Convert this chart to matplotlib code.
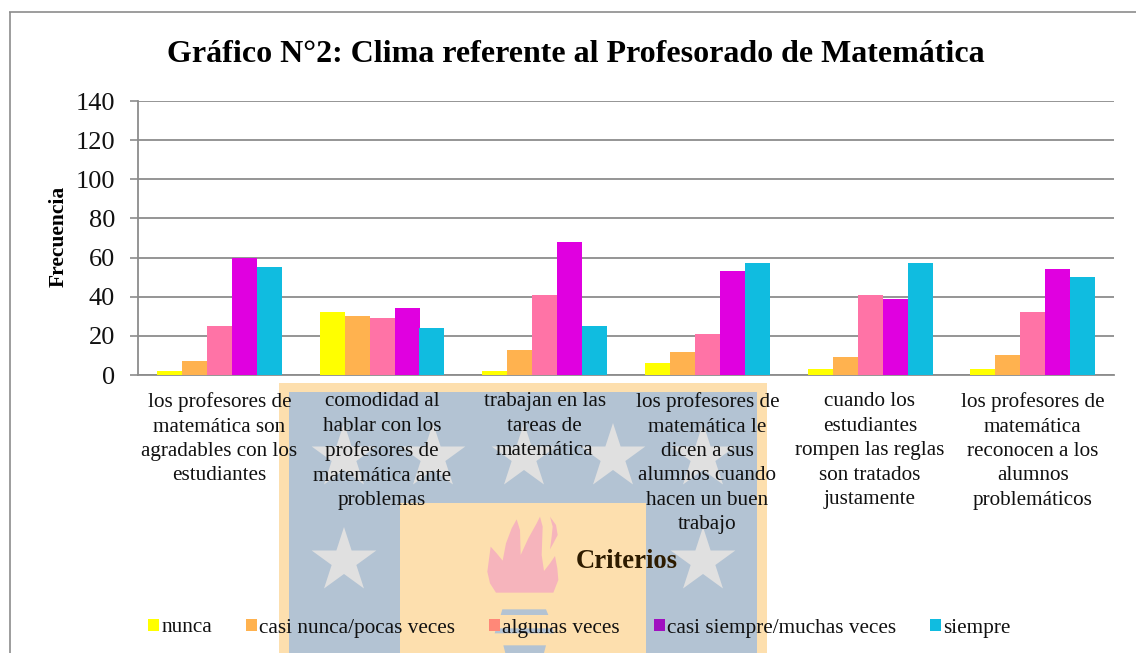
import matplotlib
matplotlib.use("Agg")
import numpy as np
import matplotlib.pyplot as plt
from matplotlib.patches import Rectangle, Polygon, Patch

plt.rcParams['font.family'] = ['Liberation Serif', 'DejaVu Serif']

TITLE = "Gráfico N°2: Clima referente al Profesorado de Matemática"
CATEGORIES = [
    "los profesores de\nmatemática son\nagradables con los\nestudiantes",
    "comodidad al\nhablar con los\nprofesores de\nmatemática ante\nproblemas",
    "trabajan en las\ntareas de\nmatemática",
    "los profesores de\nmatemática le\ndicen a sus\nalumnos cuando\nhacen un buen\ntrabajo",
    "cuando los\nestudiantes\nrompen las reglas\nson tratados\njustamente",
    "los profesores de\nmatemática\nreconocen a los\nalumnos\nproblemáticos",
]
SERIES = ["nunca", "casi nunca/pocas veces", "algunas veces",
          "casi siempre/muchas veces", "siempre"]
nunca = [2, 32, 2, 6, 3, 3]
casi_nunca = [7, 30, 13, 12, 9, 10]
algunas = [25, 29, 41, 21, 41, 32]
casi_siempre = [60, 34, 68, 53, 39, 54]
siempre = [55, 24, 25, 57, 57, 50]
VALUES = [nunca, casi_nunca, algunas, casi_siempre, siempre]
BAR_COLORS = ["#FFFF00", "#FFB24F", "#FF73A6", "#E000E0", "#10BCE0"]
LEGEND_COLORS = ["#FFFF00", "#FFB24F", "#FF8878", "#A010C0", "#10BCE0"]
YTICKS = [0, 20, 40, 60, 80, 100, 120, 140]

W, H = 1136, 653
fig = plt.figure(figsize=(W / 100, H / 100), dpi=100, facecolor="white")

# background watermark + frame, in pixel coordinates
bg = fig.add_axes([0, 0, 1, 1], zorder=0)
bg.set_xlim(0, W); bg.set_ylim(H, 0); bg.axis("off")
BEIGE, BLUE = "#FDDFAE", "#B3C3D3"
bg.add_patch(Rectangle((279, 383), 488, 270, fc=BEIGE, ec="none"))
bg.add_patch(Rectangle((289, 392), 468, 261, fc=BLUE, ec="none"))
bg.add_patch(Rectangle((400, 503), 246, 150, fc=BEIGE, ec="none"))

def star(cx, cy, R=34):
    a = np.pi / 2 + np.arange(10) * np.pi / 5
    r = np.where(np.arange(10) % 2 == 0, R, R * 0.382)
    return np.column_stack([cx + r * np.cos(a), cy - r * np.sin(a)])

for cx, cy in [(344, 457), (433, 457), (524, 457), (613, 457), (703, 457), (344, 561), (703, 561)]:
    bg.add_patch(Polygon(star(cx, cy), fc="#E0E0E0", ec="none"))

def zoomed(pts):
    return [(470 + x / 3, 500 + y / 3) for x, y in pts]

flame = [(78, 278), (60, 250), (52, 215), (62, 140), (80, 160), (98, 182), (108, 130), (125, 85),
         (140, 58), (150, 90), (152, 165), (175, 115), (200, 70), (210, 50), (218, 80), (215, 165),
         (222, 213), (240, 190), (255, 168), (262, 205), (265, 240), (250, 278)]
flame2 = [(240, 50), (258, 75), (263, 105), (250, 130), (240, 148), (245, 110), (248, 80)]
for p in (flame, flame2):
    bg.add_patch(Polygon(zoomed(p), fc="#F6B4BC", ec="none"))
for p in ([(97, 328), (228, 328), (235, 345), (92, 345)],
          [(78, 385), (248, 385), (252, 400), (74, 400)],
          [(100, 436), (228, 436), (222, 459), (106, 459)]):
    bg.add_patch(Polygon(zoomed(p), fc=BLUE, ec="none"))

FRAME = "#8C8C8C"
bg.plot([9.5, 9.5], [653, 11.5], color=FRAME, lw=1.2, solid_capstyle="butt")
bg.plot([9, 1136], [11.5, 11.5], color=FRAME, lw=1.2, solid_capstyle="butt")

# main chart
ax = fig.add_axes([138 / W, 1 - 375 / H, (1114 - 138) / W, (375 - 101) / H], zorder=1)
ax.patch.set_alpha(0)
x = np.arange(len(CATEGORIES))
bw = 25 / ((1114 - 138) / 6)
for i, (vals, c) in enumerate(zip(VALUES, BAR_COLORS)):
    ax.bar(x + (i - 2) * bw, vals, bw, color=c, zorder=3)
ax.set_xlim(-0.5, 5.5)
ax.set_ylim(0, 140)
ax.set_yticks(YTICKS)
ax.set_xticks(x)
ax.set_xticklabels(CATEGORIES, fontsize=15.2, linespacing=1.385, color="#111111")
ax.tick_params(axis="x", length=0, pad=12.5)
ax.tick_params(axis="y", length=6, width=1.2, color=FRAME, labelsize=19, pad=10.5, labelcolor="#111111")
ax.grid(axis="y", color=FRAME, lw=1.3, zorder=1)
ax.set_axisbelow(True)
for s in ("top", "right"):
    ax.spines[s].set_visible(False)
for s in ("left", "bottom"):
    ax.spines[s].set_color(FRAME)
    ax.spines[s].set_linewidth(1.3)

fig.text(576 / W, 1 - 55 / H, TITLE, fontsize=23.05, fontweight="bold", ha="center", va="center", color="black")
fig.text(58.5 / W, 1 - 236 / H, "Frecuencia", fontsize=15.5, fontweight="bold", rotation=90,
         ha="center", va="center", color="black")
fig.text(627 / W, 1 - 561 / H, "Criterios", fontsize=19.2, fontweight="bold", ha="center", va="center",
         color="#2E1C00")

handles = [Patch(fc=c, ec="none", label=s) for c, s in zip(LEGEND_COLORS, SERIES)]
fig.legend(handles=handles, ncol=5, frameon=False, fontsize=15.3,
           loc="center left", bbox_to_anchor=(129 / W, 1 - 628 / H),
           handlelength=0.52, handleheight=0.52, handletextpad=0.1,
           columnspacing=1.6, labelcolor="#111111")

fig.savefig("out.png", dpi=100)
